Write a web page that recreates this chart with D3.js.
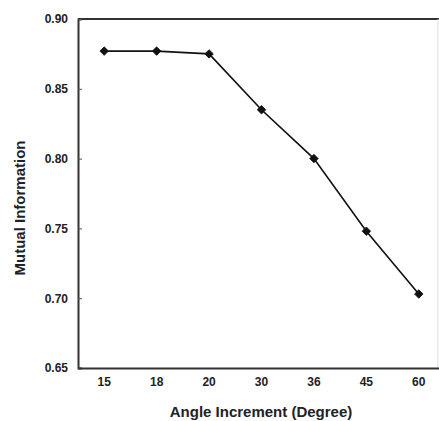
<!DOCTYPE html>
<html><head><meta charset="utf-8">
<script src="https://cdn.jsdelivr.net/npm/d3@7"></script>
<style>body{margin:0;background:#fff;} svg{display:block;}</style>
</head><body>
<script>
const categories = ["15","18","20","30","36","45","60"];
const values = [0.877, 0.877, 0.875, 0.835, 0.800, 0.748, 0.703];
const yTicks = [0.65, 0.70, 0.75, 0.80, 0.85, 0.90];

(function () {
const W = 439, H = 421;
const svg = d3.select("body").append("svg").attr("width", W).attr("height", H);
const mLeft = 78, mRight = 445, mTop = 19, mBottom = 368;

const x = d3.scaleBand().domain(categories).range([mLeft, mRight]);
const y = d3.scaleLinear().domain([0.65, 0.90]).range([mBottom, mTop]);
const font = "Arial, 'Liberation Sans', sans-serif";

// frame
svg.append("line").attr("x1", mLeft).attr("x2", mRight).attr("y1", mTop).attr("y2", mTop)
  .attr("stroke", "#333").attr("stroke-width", 1.8);
svg.append("line").attr("x1", 438).attr("x2", 438).attr("y1", mTop).attr("y2", mBottom)
  .attr("stroke", "#ddd").attr("stroke-width", 1);

const yAxis = svg.append("g").attr("transform", `translate(${mLeft},0)`)
  .call(d3.axisLeft(y).tickValues(yTicks).tickFormat(d3.format(".2f")).tickSize(-4).tickPadding(10));
yAxis.select(".domain").attr("stroke", "#333").attr("stroke-width", 2);
yAxis.selectAll(".tick line").attr("stroke", "#555");
yAxis.selectAll("text").attr("font-family", font).attr("font-weight", "bold").attr("font-size", 12).attr("fill", "#222");

const xAxis = svg.append("g").attr("transform", `translate(0,${mBottom})`)
  .call(d3.axisBottom(x).tickSize(0).tickPadding(9));
xAxis.select(".domain").attr("stroke", "#333").attr("stroke-width", 2);
xAxis.selectAll("text").attr("font-family", font).attr("font-weight", "bold").attr("font-size", 12).attr("fill", "#222");

const cx = d => x(d) + x.bandwidth() / 2;
const line = d3.line().x((d, i) => cx(categories[i])).y(d => y(d));
svg.append("path").datum(values).attr("d", line).attr("fill", "none")
  .attr("stroke", "#111").attr("stroke-width", 1.6);

svg.selectAll(".pt").data(values).enter().append("path")
  .attr("transform", (d, i) => `translate(${cx(categories[i])},${y(d)}) rotate(45)`)
  .attr("d", d3.symbol().type(d3.symbolSquare).size(36))
  .attr("fill", "#111").attr("stroke", "#111").attr("stroke-width", 0.8).attr("stroke-linejoin", "round");

svg.append("text").attr("x", 261).attr("y", 417).attr("text-anchor", "middle")
  .attr("font-family", font).attr("font-weight", "bold").attr("font-size", 15).attr("fill", "#222")
  .text("Angle Increment (Degree)");
svg.append("text").attr("transform", `translate(25,208) rotate(-90)`).attr("text-anchor", "middle")
  .attr("font-family", font).attr("font-weight", "bold").attr("font-size", 15).attr("fill", "#222")
  .text("Mutual Information");
})();
</script>
</body></html>
